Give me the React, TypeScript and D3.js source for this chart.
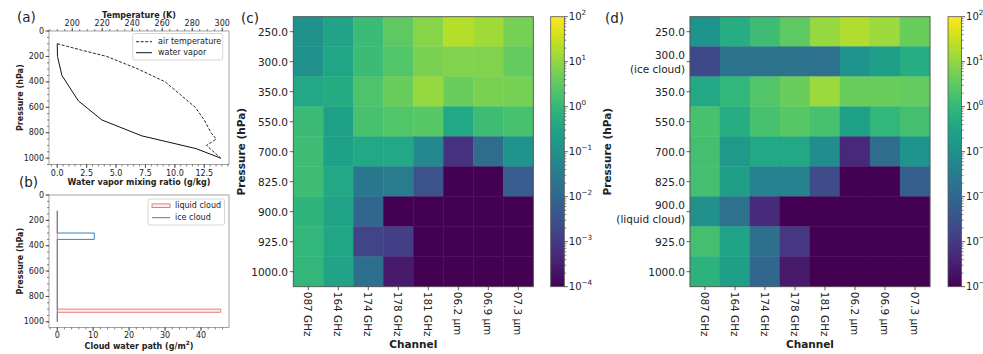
import React from 'react';
import * as d3 from 'd3';

// ---------- data ----------
const tempPressure = [100, 150, 200, 300, 400, 500, 600, 700, 800, 850, 900, 1000];
const airTemperature = [190, 206, 223, 244, 262, 272, 282, 288, 292.5, 296, 289.5, 299];
const vaporPressure = [100, 200, 350, 550, 700, 825, 925, 1000];
const waterVapor = [0, 0.02, 0.4, 1.8, 3.8, 7.2, 11.8, 13.9];

const cloudPressure = [125, 300, 300, 350, 350, 900, 900, 925, 925, 1000];
const iceCloud = [0, 0, 10.3, 10.3, 0, 0, 0, 0, 0, 0];
const liquidCloud = [0, 0, 0, 0, 0, 0, 45.5, 45.5, 0, 0];

const aYTicks = [0, 200, 400, 600, 800, 1000];
const aXTicks = [0, 2.5, 5, 7.5, 10, 12.5];
const aTTicks = [200, 220, 240, 260, 280, 300];
const bXTicks = [0, 10, 20, 30, 40];

const channels = ['087 GHz', '164 GHz', '174 GHz', '178 GHz', '181 GHz', '06.2 µm', '06.9 µm', '07.3 µm'];
const levels = ['250.0', '300.0', '350.0', '550.0', '700.0', '825.0', '900.0', '925.0', '1000.0'];
const levelsD = [['250.0'], ['300.0', '(ice cloud)'], ['350.0'], ['550.0'], ['700.0'], ['825.0'], ['900.0', '(liquid cloud)'], ['925.0'], ['1000.0']];

const Z = 1e-6;
const valuesC = [
  [0.1, 0.3, 1.2, 3.2, 8.3, 22, 14, 5.5],
  [0.1, 0.35, 1.2, 2.4, 6.3, 7.2, 7.2, 3.6],
  [0.4, 0.46, 2.1, 4.2, 11, 4.2, 6.3, 5.5],
  [1.2, 0.26, 1.8, 2.4, 2.8, 0.4, 1.4, 1.8],
  [1.4, 0.26, 0.4, 0.4, 0.066, 7e-4, 0.0126, 0.13],
  [1.4, 0.4, 0.025, 0.029, 0.0032, Z, Z, 0.0055],
  [0.8, 0.3, 0.0095, Z, Z, Z, Z, Z],
  [0.9, 0.35, 0.0016, 0.0012, Z, Z, Z, Z],
  [0.9, 0.3, 0.0145, 2.6e-4, Z, Z, Z, Z],
];
const valuesD = [
  [0.13, 0.52, 1.4, 3.2, 11, 19, 12.6, 4.2],
  [0.0021, 0.019, 0.019, 0.019, 0.0166, 0.13, 0.23, 0.52],
  [0.4, 0.9, 2.4, 4.2, 12.6, 4.2, 4.2, 3.6],
  [1.8, 0.52, 1.8, 2.8, 1.8, 0.26, 0.9, 1.6],
  [1.6, 0.17, 0.4, 0.4, 0.087, 4.6e-4, 0.0126, 0.13],
  [1.6, 0.23, 0.044, 0.044, 0.0024, Z, Z, 0.0063],
  [0.1, 0.0166, 5.2e-4, Z, Z, Z, Z, Z],
  [1.6, 0.3, 0.0145, 9e-4, Z, Z, Z, Z],
  [0.7, 0.23, 0.0095, 2.6e-4, Z, Z, Z, Z],
];
const cbarExponents = [-4, -3, -2, -1, 0, 1, 2];

// ---------- styles ----------
const FONT = 'DejaVu Sans, sans-serif';
const SPINE = '#555';
const TICK = '#333';
const TXT = '#222';

function fmtA(v: number) {
  return v.toFixed(1);
}

function Heatmap(props: { x0: number; values: number[][]; rowLabels: string[][]; cbX: number; letter: string; letterX: number; ylabX: number; id: string; labelEnd: number }) {
  const { x0, values, rowLabels, cbX, letter, letterX, ylabX, id, labelEnd } = props;
  const y0 = 16.7, y1 = 286.7;
  const x1 = x0 + 240;
  const xs = d3.scaleBand<string>().domain(channels).range([x0, x1]);
  const ys = d3.scaleBand<string>().domain(levels).range([y0, y1]);
  const color = d3.scaleSequentialLog(d3.interpolateViridis).domain([1e-4, 1e2]).clamp(true);
  const cb = d3.scaleLog().domain([1e-4, 1e2]).range([y1, y0]);
  const cbW = 13.6;
  const stops = d3.range(0, 1.0001, 0.05);
  const minor: number[] = [];
  for (let e = -4; e < 2; e++) for (let k = 2; k < 10; k++) minor.push(k * Math.pow(10, e));
  return (
    <g>
      <defs>
        <linearGradient id={id} x1="0" y1="1" x2="0" y2="0">
          {stops.map((t) => (
            <stop key={t} offset={t} stopColor={d3.interpolateViridis(t)} />
          ))}
        </linearGradient>
      </defs>
      {values.map((row, i) =>
        row.map((v, j) => {
          const c = color(v) as string;
          return (
            <rect key={i + '-' + j} x={xs(channels[j])} y={ys(levels[i])} width={xs.bandwidth()} height={ys.bandwidth()} fill={c} stroke={c} strokeWidth={0.4} />
          );
        })
      )}
      <rect x={x0} y={y0} width={240} height={y1 - y0} fill="none" stroke={SPINE} strokeWidth={0.9} />
      {levels.map((l, i) => {
        const cy = (ys(l) as number) + ys.bandwidth() / 2;
        const lines = rowLabels[i];
        return (
          <g key={l}>
            <line x1={x0 - 3.5} x2={x0} y1={cy} y2={cy} stroke={TICK} strokeWidth={0.8} />
            {lines.map((s, k) => (
              <text key={k} x={labelEnd} y={cy + (lines.length === 2 ? (k === 0 ? -7 : 7.5) : 0)} textAnchor="end" dominantBaseline="central" fontSize={10.5} fill={TXT}>
                {s}
              </text>
            ))}
          </g>
        );
      })}
      {channels.map((c) => {
        const cx = (xs(c) as number) + xs.bandwidth() / 2;
        return (
          <g key={c}>
            <line x1={cx} x2={cx} y1={y1} y2={y1 + 3.5} stroke={TICK} strokeWidth={0.8} />
            <text transform={`translate(${cx},${y1 + 5}) rotate(90)`} textAnchor="start" dominantBaseline="central" fontSize={10.5} fill={TXT}>
              {c}
            </text>
          </g>
        );
      })}
      <text x={(x0 + x1) / 2} y={343.5} textAnchor="middle" dominantBaseline="central" fontSize={10.5} fontWeight="bold" fill={TXT}>
        Channel
      </text>
      <text transform={`translate(${ylabX},${(y0 + y1) / 2}) rotate(-90)`} textAnchor="middle" dominantBaseline="central" fontSize={10.5} fontWeight="bold" fill={TXT}>
        Pressure (hPa)
      </text>
      <text x={letterX} y={22.5} fontSize={13.5} fill={TXT}>
        {letter}
      </text>
      {/* colorbar */}
      <rect x={cbX} y={y0} width={cbW} height={y1 - y0} fill={`url(#${id})`} />
      <rect x={cbX} y={y0} width={cbW} height={y1 - y0} fill="none" stroke={SPINE} strokeWidth={0.8} />
      {minor.map((m) => (
        <line key={m} x1={cbX + cbW} x2={cbX + cbW + 2} y1={cb(m)} y2={cb(m)} stroke={TICK} strokeWidth={0.6} />
      ))}
      {cbarExponents.map((e) => {
        const yy = cb(Math.pow(10, e));
        return (
          <g key={e}>
            <line x1={cbX + cbW} x2={cbX + cbW + 3.5} y1={yy} y2={yy} stroke={TICK} strokeWidth={0.8} />
            <text x={cbX + cbW + 4.5} y={yy + 3.5} fontSize={10} fill={TXT}>
              10
              <tspan dy={-5} fontSize={7.2}>
                {e < 0 ? '\u2212' + Math.abs(e) : String(e)}
              </tspan>
            </text>
          </g>
        );
      })}
    </g>
  );
}

export default function App() {
  const aL = 49, aR = 229, aTop = 31, aBot = 164.5;
  const bTop = 195, bBot = 327.5;
  const aX = d3.scaleLinear().domain([-0.7, 14.6]).range([aL, aR]);
  const aT = d3.scaleLinear().domain([184.5, 304.5]).range([aL, aR]);
  const aY = d3.scaleLinear().domain([0, 1050]).range([aTop, aBot]);
  const bX = d3.scaleLinear().domain([-2.3, 47.8]).range([aL, aR]);
  const bY = d3.scaleLinear().domain([0, 1045]).range([bTop, bBot]);

  const tempLine = d3
    .line<number>()
    .x((d) => aT(d))
    .y((_, i) => aY(tempPressure[i]))(airTemperature) as string;
  const vaporLine = d3
    .line<number>()
    .x((d) => aX(d))
    .y((_, i) => aY(vaporPressure[i]))(waterVapor) as string;
  const liqLine = d3
    .line<number>()
    .x((d) => bX(d))
    .y((_, i) => bY(cloudPressure[i]))(liquidCloud) as string;
  const iceLine = d3
    .line<number>()
    .x((d) => bX(d))
    .y((_, i) => bY(cloudPressure[i]))(iceCloud) as string;

  const yMinorA = d3.range(0, 1051, 50);
  const yMinorB = d3.range(0, 1046, 50);
  const tMinor = d3.range(185, 305, 5);
  const xMinorA = d3.range(-0.5, 14.6, 0.5);
  const xMinorB = d3.range(-2, 47.8, 2);

  return (
    <svg width={983} height={354} style={{ position: 'absolute', left: 0, top: 0, background: '#fff' }} fontFamily={FONT}>
      <rect x={0} y={0} width={983} height={354} fill="#fff" />
      {/* ---------- panel (a) ---------- */}
      <path d={tempLine} fill="none" stroke="#111" strokeWidth={0.9} strokeDasharray="3,1.6" />
      <path d={vaporLine} fill="none" stroke="#111" strokeWidth={1} />
      <rect x={aL} y={aTop} width={aR - aL} height={aBot - aTop} fill="none" stroke="#999" strokeWidth={0.9} />
      {yMinorA.map((v) => (
        <line key={'ym' + v} x1={aL - 2} x2={aL} y1={aY(v)} y2={aY(v)} stroke={TICK} strokeWidth={0.6} />
      ))}
      {aYTicks.map((v) => (
        <g key={'ay' + v}>
          <line x1={aL - 3.5} x2={aL} y1={aY(v)} y2={aY(v)} stroke={TICK} strokeWidth={0.8} />
          <text x={aL - 5} y={aY(v)} textAnchor="end" dominantBaseline="central" fontSize={8} fill={TXT}>
            {v}
          </text>
        </g>
      ))}
      {xMinorA.map((v) => (
        <line key={'xm' + v} x1={aX(v)} x2={aX(v)} y1={aBot} y2={aBot + 2} stroke={TICK} strokeWidth={0.6} />
      ))}
      {aXTicks.map((v) => (
        <g key={'ax' + v}>
          <line x1={aX(v)} x2={aX(v)} y1={aBot} y2={aBot + 3.5} stroke={TICK} strokeWidth={0.8} />
          <text x={aX(v)} y={aBot + 8.5} textAnchor="middle" dominantBaseline="central" fontSize={8} fill={TXT}>
            {fmtA(v)}
          </text>
        </g>
      ))}
      {tMinor.map((v) => (
        <line key={'tm' + v} x1={aT(v)} x2={aT(v)} y1={aTop} y2={aTop - 2} stroke={TICK} strokeWidth={0.6} />
      ))}
      {aTTicks.map((v) => (
        <g key={'at' + v}>
          <line x1={aT(v)} x2={aT(v)} y1={aTop} y2={aTop - 3.5} stroke={TICK} strokeWidth={0.8} />
          <text x={aT(v)} y={aTop - 8} textAnchor="middle" dominantBaseline="central" fontSize={8} fill={TXT}>
            {v}
          </text>
        </g>
      ))}
      <text x={(aL + aR) / 2} y={15} textAnchor="middle" dominantBaseline="central" fontSize={8} fontWeight="bold" fill={TXT}>
        Temperature (K)
      </text>
      <text x={(aL + aR) / 2} y={182} textAnchor="middle" dominantBaseline="central" fontSize={8} fontWeight="bold" fill={TXT}>
        Water vapor mixing ratio (g/kg)
      </text>
      <text transform={`translate(20,${(aTop + aBot) / 2}) rotate(-90)`} textAnchor="middle" dominantBaseline="central" fontSize={8} fontWeight="bold" fill={TXT}>
        Pressure (hPa)
      </text>
      <text x={17} y={22} fontSize={13.5} fill={TXT}>
        (a)
      </text>
      <g>
        <rect x={132.7} y={33.5} width={90} height={26.5} rx={2} fill="#fff" fillOpacity={0.85} stroke="#ccc" strokeWidth={0.8} />
        <line x1={136} x2={152} y1={41.7} y2={41.7} stroke="#111" strokeWidth={0.9} strokeDasharray="3,1.6" />
        <text x={158} y={41.7} dominantBaseline="central" fontSize={8} fill={TXT}>
          air temperature
        </text>
        <line x1={136} x2={152} y1={52.7} y2={52.7} stroke="#111" strokeWidth={1} />
        <text x={158} y={52.7} dominantBaseline="central" fontSize={8} fill={TXT}>
          water vapor
        </text>
      </g>

      {/* ---------- panel (b) ---------- */}
      <path d={liqLine} fill="#fdeeee" stroke="#ec7c7c" strokeWidth={1} />
      <path d={iceLine} fill="none" stroke="#3a80bd" strokeWidth={1} />
      <rect x={aL} y={bTop} width={aR - aL} height={bBot - bTop} fill="none" stroke="#999" strokeWidth={0.9} />
      {yMinorB.map((v) => (
        <line key={'bym' + v} x1={aL - 2} x2={aL} y1={bY(v)} y2={bY(v)} stroke={TICK} strokeWidth={0.6} />
      ))}
      {aYTicks.map((v) => (
        <g key={'by' + v}>
          <line x1={aL - 3.5} x2={aL} y1={bY(v)} y2={bY(v)} stroke={TICK} strokeWidth={0.8} />
          <text x={aL - 5} y={bY(v)} textAnchor="end" dominantBaseline="central" fontSize={8} fill={TXT}>
            {v}
          </text>
        </g>
      ))}
      {xMinorB.map((v) => (
        <line key={'bxm' + v} x1={bX(v)} x2={bX(v)} y1={bBot} y2={bBot + 2} stroke={TICK} strokeWidth={0.6} />
      ))}
      {bXTicks.map((v) => (
        <g key={'bx' + v}>
          <line x1={bX(v)} x2={bX(v)} y1={bBot} y2={bBot + 3.5} stroke={TICK} strokeWidth={0.8} />
          <text x={bX(v)} y={bBot + 8} textAnchor="middle" dominantBaseline="central" fontSize={8} fill={TXT}>
            {v}
          </text>
        </g>
      ))}
      <text x={(aL + aR) / 2} y={346} textAnchor="middle" dominantBaseline="central" fontSize={8} fontWeight="bold" fill={TXT}>
        Cloud water path (g/m
        <tspan dy={-3} fontSize={5.8}>2</tspan>
        <tspan dy={3}>)</tspan>
      </text>
      <text transform={`translate(20,${(bTop + bBot) / 2}) rotate(-90)`} textAnchor="middle" dominantBaseline="central" fontSize={8} fontWeight="bold" fill={TXT}>
        Pressure (hPa)
      </text>
      <text x={19} y={187} fontSize={13.5} fill={TXT}>
        (b)
      </text>
      <g>
        <rect x={148} y={199} width={76.5} height={26} rx={2} fill="#fff" fillOpacity={0.85} stroke="#ccc" strokeWidth={0.8} />
        <rect x={152} y={203.9} width={18} height={3.6} fill="#fdeeee" stroke="#ec7c7c" strokeWidth={1} />
        <text x={175} y={205.7} dominantBaseline="central" fontSize={8} fill={TXT}>
          liquid cloud
        </text>
        <line x1={152} x2={170} y1={217.7} y2={217.7} stroke="#3a80bd" strokeWidth={1} />
        <text x={175} y={217.7} dominantBaseline="central" fontSize={8} fill={TXT}>
          ice cloud
        </text>
      </g>

      {/* ---------- panel (c) ---------- */}
      <Heatmap x0={293.3} values={valuesC} rowLabels={levels.map((l) => [l])} cbX={550.7} letter="(c)" letterX={241} ylabX={241} id="cbc" labelEnd={288} />
      {/* ---------- panel (d) ---------- */}
      <Heatmap x0={690} values={valuesD} rowLabels={levelsD} cbX={948} letter="(d)" letterX={605} ylabX={607} id="cbd" labelEnd={685} />
    </svg>
  );
}
